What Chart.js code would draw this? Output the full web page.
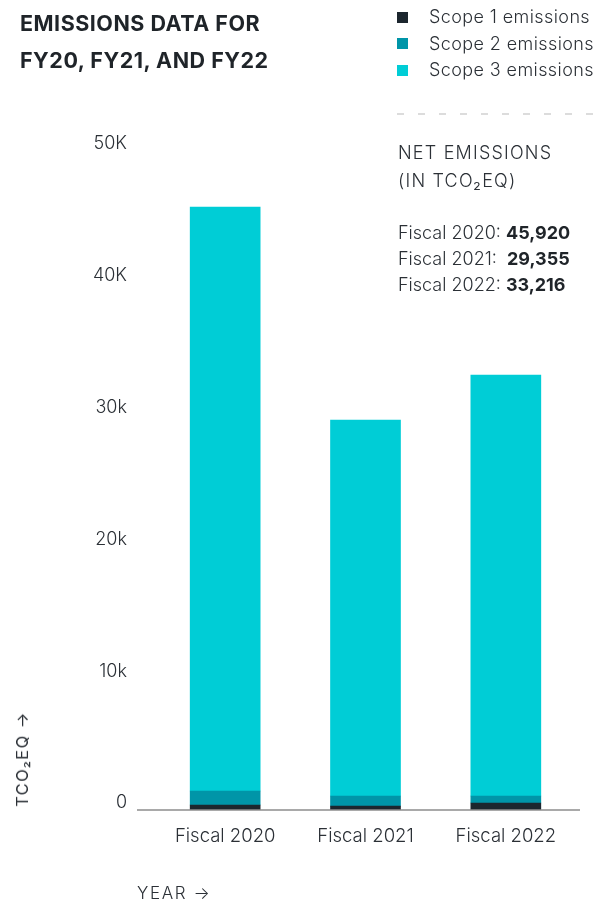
<!DOCTYPE html>
<html>
<head>
<meta charset="utf-8">
<script src="https://cdn.jsdelivr.net/npm/chart.js@4.4.1/dist/chart.umd.min.js"></script>
<style>
  html, body { margin: 0; padding: 0; background: #fff; }
  body { width: 594px; height: 904px; position: relative; overflow: hidden;
         font-family: 'Inter', 'Noto Sans', sans-serif; color: #2b3036; }
  #wrap { position: absolute; left: 0; top: 0; width: 594px; height: 904px; }
  .abs { position: absolute; white-space: nowrap; }
  #title { left: 20px; top: 5px; font-size: 21.5px; font-weight: 700; line-height: 37px; letter-spacing: 0.5px; color: #1f2429; }
  #legend { left: 397px; top: 4px; font-size: 18px; font-weight: 300; letter-spacing: 0.4px; }
  #legend .row { height: 26.5px; line-height: 26.5px; display: flex; align-items: center; }
  #legend .sw { width: 11px; height: 11px; margin-right: 21px; }
  #dash { left: 397px; top: 113px; width: 197px; height: 2px; }
  #net { left: 398px; top: 139px; font-size: 18px; font-weight: 300; line-height: 28px; letter-spacing: 1.2px; }
  #totals { left: 398px; top: 220px; font-size: 18px; font-weight: 300; line-height: 26px; }
  #totals b { font-weight: 700; color: #1f2429; }
  #ytitle { left: 22px; top: 759px; font-size: 16.5px; font-weight: 400; letter-spacing: 1.4px;
            transform: translate(-50%, -50%) rotate(-90deg); }
  #xtitle { left: 137px; top: 883px; font-size: 17px; font-weight: 300; letter-spacing: 1.6px; }
</style>
</head>
<body>
<div id="wrap"><canvas id="chart" width="594" height="904"></canvas></div>
<div id="title" class="abs">EMISSIONS DATA FOR<br>FY20, FY21, AND FY22</div>
<div id="legend" class="abs"></div>
<canvas id="dash" class="abs" width="197" height="2"></canvas>
<div id="net" class="abs">NET EMISSIONS<br>(IN TCO₂EQ)</div>
<div id="totals" class="abs"></div>
<div id="ytitle" class="abs">TCO₂EQ →</div>
<div id="xtitle" class="abs">YEAR →</div>
<script>
// ─── Data ────────────────────────────────────────────────────────────────────
const YEARS = ['Fiscal 2020', 'Fiscal 2021', 'Fiscal 2022'];
const SCOPE1 = [380, 300, 530];
const SCOPE2 = [1060, 760, 530];
const SCOPE3 = [44310, 28530, 31945];
const NET_TOTALS = [45920, 29355, 33216];
const Y_TICKS = [0, 10000, 20000, 30000, 40000, 50000];
const Y_TICK_LABELS = ['0', '10k', '20k', '30k', '40K', '50K'];

const SERIES = [
  { label: 'Scope 1 emissions', data: SCOPE1, color: '#1c262e' },
  { label: 'Scope 2 emissions', data: SCOPE2, color: '#0095a8' },
  { label: 'Scope 3 emissions', data: SCOPE3, color: '#00cdd6' },
];

// ─── HTML side panels ────────────────────────────────────────────────────────
const legendEl = document.getElementById('legend');
for (const s of SERIES) {
  const row = document.createElement('div');
  row.className = 'row';
  row.innerHTML = `<span class="sw" style="background:${s.color}"></span>${s.label}`;
  legendEl.appendChild(row);
}

document.getElementById('totals').innerHTML = YEARS.map((y, i) =>
  `${y}:${i === 1 ? '&nbsp;' : ''} <b>${NET_TOTALS[i].toLocaleString('en-US')}</b>`
).join('<br>');

const dctx = document.getElementById('dash').getContext('2d');
dctx.strokeStyle = '#dcdcdc';
dctx.lineWidth = 2;
dctx.setLineDash([7, 14]);
dctx.beginPath();
dctx.moveTo(0, 1);
dctx.lineTo(197, 1);
dctx.stroke();

// ─── Chart ───────────────────────────────────────────────────────────────────
// baseline runs a bit wider than the category band, like the original
const baseline = {
  id: 'baseline',
  afterDatasetsDraw(chart) {
    const { ctx, scales: { y } } = chart;
    const py = y.getPixelForValue(0);
    ctx.save();
    ctx.strokeStyle = '#8c8c8c';
    ctx.lineWidth = 1.5;
    ctx.beginPath();
    ctx.moveTo(137, py);
    ctx.lineTo(580, py);
    ctx.stroke();
    ctx.restore();
  },
};

const tickFont = { family: 'Inter', size: 18, weight: 300 };

new Chart(document.getElementById('chart'), {
  type: 'bar',
  data: {
    labels: YEARS,
    datasets: SERIES.map(s => ({
      label: s.label,
      data: s.data,
      backgroundColor: s.color,
      borderWidth: 0,
      barThickness: 70,
    })),
  },
  options: {
    responsive: false,
    animation: false,
    layout: { padding: { left: 0, right: 18, top: 151, bottom: 0 } },
    plugins: { legend: { display: false }, tooltip: { enabled: false } },
    scales: {
      x: {
        stacked: true,
        grid: { display: false },
        border: { display: false },
        ticks: { color: '#2b3036', padding: 7, font: { ...tickFont, size: 18.5 } },
        afterFit(scale) { scale.height = 94; },
      },
      y: {
        stacked: true,
        min: 0,
        max: 50000,
        grid: { display: false },
        border: { display: false },
        afterBuildTicks(scale) { scale.ticks = Y_TICKS.map(v => ({ value: v })); },
        ticks: {
          color: '#2b3036',
          padding: 20,
          labelOffset: -7,
          font: tickFont,
          callback: (v) => Y_TICK_LABELS[Y_TICKS.indexOf(v)],
        },
        afterFit(scale) { scale.width = 155; },
      },
    },
  },
  plugins: [baseline],
});
</script>
</body>
</html>
